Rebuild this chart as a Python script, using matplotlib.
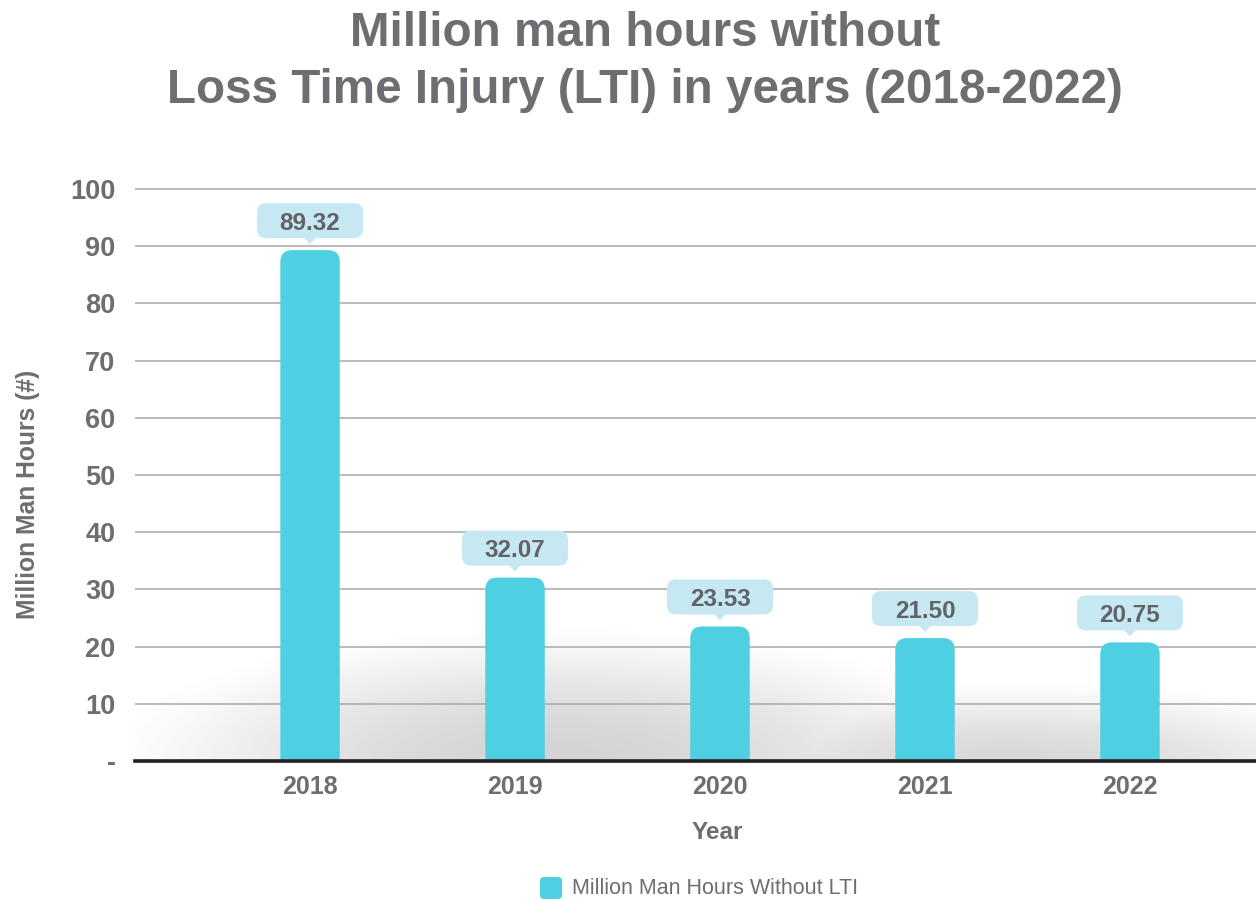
import numpy as np
import matplotlib
matplotlib.use("Agg")
import matplotlib.pyplot as plt
import matplotlib.transforms as mtransforms
from matplotlib.patches import FancyBboxPatch, Polygon

# Data
years = ["2018", "2019", "2020", "2021", "2022"]
hours = [89.32, 32.07, 23.53, 21.50, 20.75]
y_ticks = [0, 10, 20, 30, 40, 50, 60, 70, 80, 90, 100]
y_tick_labels = ["-", "10", "20", "30", "40", "50", "60", "70", "80", "90", "100"]
legend_label = "Million Man Hours Without LTI"

BAR = "#4ecfe2"
CALLOUT = "#c6e8f3"
GREY = "#6d6e71"
FONT = "Liberation Sans"

plt.rcParams["font.family"] = [FONT, "DejaVu Sans"]

fig = plt.figure(figsize=(12.56, 9.0), dpi=100)
AX_POS = [0.1075, 0.1544, 0.8925, 0.6419]
ax = fig.add_axes(AX_POS)

x = np.arange(len(years))
xlim = (-0.854, 4.615)
ylim = (0, 101)
ax.set_xlim(*xlim)
ax.set_ylim(*ylim)

# soft floor shadow behind the bars (two overlapping elliptical glows)
nx, ny = 800, 300
gx = np.linspace(xlim[0], xlim[1], nx)
gy = np.linspace(0, 30, ny)
GX, GY = np.meshgrid(gx, gy)


def glow(cx, sx, sy, amax):
    r2 = ((GX - cx) / sx) ** 2 + (GY / sy) ** 2
    return amax * np.clip(1 - r2, 0, 1) ** 1.5


alpha = np.maximum(glow(1.22, 2.3, 24.0, 0.26), glow(3.4, 2.0, 14.0, 0.23))
img = np.zeros((ny, nx, 4))
img[..., :3] = 0.35
img[..., 3] = alpha
ax.imshow(img, extent=(xlim[0], xlim[1], 0, 30), origin="lower",
          aspect="auto", zorder=0, interpolation="bilinear")

# grid
for t in y_ticks[1:]:
    ax.axhline(t, color="#a8a8a8", lw=1.1, zorder=1)

# bars with rounded tops
bw = 0.29
px_x = (xlim[1] - xlim[0]) / (fig.get_figwidth() * fig.dpi * AX_POS[2])
px_y = (ylim[1] - ylim[0]) / (fig.get_figheight() * fig.dpi * AX_POS[3])
radius = 12 * px_x
for xi, v in zip(x, hours):
    p = FancyBboxPatch((xi - bw / 2, -5), bw, v + 5,
                       boxstyle=f"round,pad=0,rounding_size={radius}",
                       mutation_aspect=px_y / px_x,
                       facecolor=BAR, edgecolor="none", zorder=3)
    ax.add_patch(p)

# value callouts (sized in pixels, anchored at the bar top)
pix = mtransforms.Affine2D().scale(fig.dpi / 100.0)
for xi, v in zip(x, hours):
    tr = pix + mtransforms.ScaledTranslation(xi, v, ax.transData)
    w, h, gap, tip = 106, 35, 12, 6
    box = FancyBboxPatch((-w / 2, gap), w, h,
                         boxstyle="round,pad=0,rounding_size=9",
                         facecolor=CALLOUT, edgecolor="none",
                         transform=tr, zorder=4, clip_on=False)
    ax.add_patch(box)
    ax.add_patch(Polygon([(-6, gap + 0.5), (6, gap + 0.5), (0, gap - tip)],
                         closed=True, facecolor=CALLOUT, edgecolor="none",
                         transform=tr, zorder=4, clip_on=False))
    ax.text(0, gap + h / 2, f"{v:.2f}", transform=tr, ha="center",
            va="center_baseline", fontsize=17.5, fontweight="bold",
            color="#626366", zorder=5)

# axes styling
for s in ["top", "right", "left"]:
    ax.spines[s].set_visible(False)
ax.spines["bottom"].set_color("#231f20")
ax.spines["bottom"].set_linewidth(2.6)
ax.spines["bottom"].set_zorder(6)

ax.set_yticks(y_ticks)
ax.set_yticklabels(y_tick_labels)
ax.set_xticks(x)
ax.set_xticklabels(years)
ax.tick_params(axis="both", length=0, labelcolor=GREY)
ax.tick_params(axis="y", pad=14, labelsize=19.5)
ax.tick_params(axis="x", pad=10, labelsize=18)
for lab in ax.get_xticklabels() + ax.get_yticklabels():
    lab.set_fontweight("bold")

ax.set_xlabel("Year", fontsize=17.5, fontweight="bold", color=GREY, labelpad=16)
ax.xaxis.label.set_x(0.519)
fig.text(0.022, 1 - 494 / 900, "Million Man Hours (#)",
         rotation=90, ha="center", va="center", fontsize=17.7,
         fontweight="bold", color=GREY)

# two-line title
fig.text(0.5135, 1 - 46 / 900, "Million man hours without",
         ha="center", va="baseline", fontsize=34.3, fontweight="bold", color=GREY)
fig.text(0.5135, 1 - 103 / 900, "Loss Time Injury (LTI) in years (2018-2022)",
         ha="center", va="baseline", fontsize=34.3, fontweight="bold", color=GREY)

# legend
fig.patches.append(FancyBboxPatch((540, 900 - 899), 22, 22,
                                  boxstyle="round,pad=0,rounding_size=4",
                                  facecolor=BAR, edgecolor="none",
                                  transform=None, figure=fig))
fig.text(572 / 1256, 1 - 888 / 900, legend_label, ha="left", va="center",
         fontsize=15.5, color=GREY)

fig.savefig("out.png", dpi=100)
